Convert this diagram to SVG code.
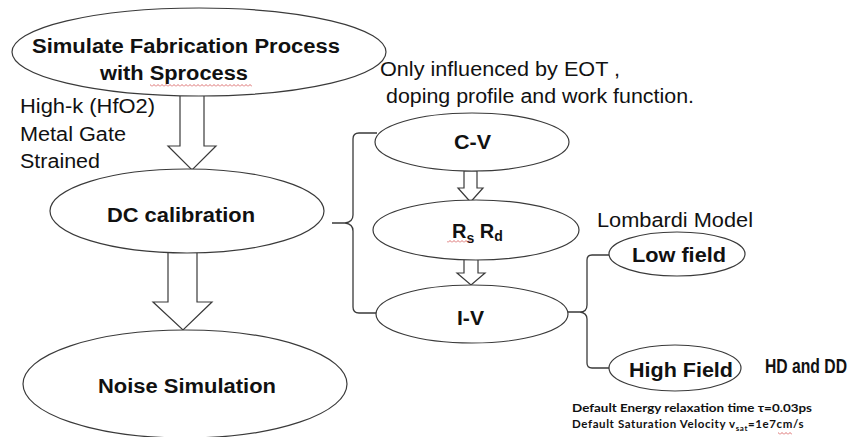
<svg xmlns="http://www.w3.org/2000/svg" width="860" height="437" viewBox="0 0 860 437">
<defs>
<pattern id="squig" width="4" height="3" patternUnits="userSpaceOnUse">
<path d="M0,2.5 L2,0.5 L4,2.5" fill="none" stroke="#d24a4a" stroke-width="0.8"/>
</pattern>
</defs>
<style>
.shape{fill:#fff;stroke:#3a3a3a;stroke-width:1.2}
.brace{fill:none;stroke:#3a3a3a;stroke-width:1.3}
.lbl{font-family:"Liberation Sans",Arial,sans-serif;font-weight:bold;font-size:20px;fill:#111}
.note{font-family:"Liberation Sans",Arial,sans-serif;font-size:20px;fill:#111}
.small{font-family:Lato,"Open Sans",sans-serif;font-weight:bold;font-size:11.5px;fill:#111}
</style>
<rect width="860" height="437" fill="#fff"/>

<g id="connectors">
<polygon class="shape" points="180,94 204,94 204,146 216,146 192,170 168,146 180,146"/>
<polygon class="shape" points="168,252 197,252 197,302 212,302 183,330 153,302 168,302"/>
<polygon class="shape" points="464,171 477,171 477,188 483,188 470.5,202 458,188 464,188"/>
<polygon class="shape" points="464,259 478,259 478,273 485,273 471,285 457,273 464,273"/>
<path class="brace" d="M377,133 H359 Q353,133 353,139 V215 Q353,222 345,223 H332 M345,223 Q353,224 353,231 V307 Q353,313 359,313 H377"/>
<path class="brace" d="M610,255 H592 Q587,255 587,260 V305 Q587,312 580,312 H568 M580,312 Q587,313 587,319 V363 Q587,368 592,368 H609"/>
</g>

<g id="node-sprocess">
<ellipse class="shape" cx="199" cy="52" rx="187" ry="44"/>
<text class="lbl" x="32" y="53" textLength="308" lengthAdjust="spacingAndGlyphs">Simulate Fabrication Process</text>
<text class="lbl" x="100" y="80" textLength="148" lengthAdjust="spacingAndGlyphs">with Sprocess</text>
<rect x="150" y="84" width="102" height="3" fill="url(#squig)"/>
</g>

<g id="note-materials">
<text class="note" x="20" y="113" textLength="135" lengthAdjust="spacingAndGlyphs">High-k (HfO2)</text>
<text class="note" x="20" y="141" textLength="106" lengthAdjust="spacingAndGlyphs">Metal Gate</text>
<text class="note" x="20" y="168" textLength="80" lengthAdjust="spacingAndGlyphs">Strained</text>
</g>

<g id="node-dc">
<ellipse class="shape" cx="187" cy="211" rx="137" ry="42"/>
<text class="lbl" x="107" y="222" textLength="148" lengthAdjust="spacingAndGlyphs">DC calibration</text>
</g>

<g id="node-noise">
<ellipse class="shape" cx="185" cy="384" rx="162" ry="54"/>
<text class="lbl" x="98" y="393" textLength="178" lengthAdjust="spacingAndGlyphs">Noise Simulation</text>
</g>

<g id="note-eot">
<text class="note" x="380" y="76" textLength="240" lengthAdjust="spacingAndGlyphs">Only influenced by EOT ,</text>
<text class="note" x="386" y="103" textLength="308" lengthAdjust="spacingAndGlyphs">doping profile and work function.</text>
</g>

<g id="node-cv">
<ellipse class="shape" cx="472" cy="142" rx="97" ry="29"/>
<text class="lbl" x="454" y="149" textLength="37" lengthAdjust="spacingAndGlyphs">C-V</text>
</g>

<g id="node-rsrd">
<ellipse class="shape" cx="476" cy="230" rx="103" ry="30"/>
<text class="lbl" x="452" y="238">R<tspan font-size="14" dy="5">s</tspan><tspan dy="-5"> R</tspan><tspan font-size="14" dy="3">d</tspan></text>
<rect x="447" y="240" width="24" height="3" fill="url(#squig)"/>
</g>

<g id="node-iv">
<ellipse class="shape" cx="472" cy="314" rx="96" ry="29"/>
<text class="lbl" x="457" y="325" textLength="27" lengthAdjust="spacingAndGlyphs">I-V</text>
</g>

<g id="note-lombardi">
<text class="note" x="597" y="227" textLength="156" lengthAdjust="spacingAndGlyphs">Lombardi Model</text>
</g>

<g id="node-lowfield">
<ellipse class="shape" cx="677" cy="254" rx="68" ry="22"/>
<text class="lbl" x="632" y="262" textLength="94" lengthAdjust="spacingAndGlyphs">Low field</text>
</g>

<g id="node-highfield">
<ellipse class="shape" cx="675" cy="368" rx="66" ry="23"/>
<text class="lbl" x="629" y="377" textLength="104" lengthAdjust="spacingAndGlyphs">High Field</text>
</g>

<g id="note-hd">
<text class="lbl" x="765" y="373" font-size="15.5" textLength="82" lengthAdjust="spacingAndGlyphs">HD and DD</text>
</g>

<g id="note-defaults">
<text class="small" x="572" y="412" textLength="240" lengthAdjust="spacingAndGlyphs">Default Energy relaxation time τ=0.03ps</text>
<text class="small" x="572" y="428" letter-spacing="0.6">Default Saturation Velocity v<tspan font-size="8" dy="3">sat</tspan><tspan dy="-3">=1e7cm/s</tspan></text>
<rect x="778" y="432" width="14" height="3" fill="url(#squig)"/>
</g>
</svg>
